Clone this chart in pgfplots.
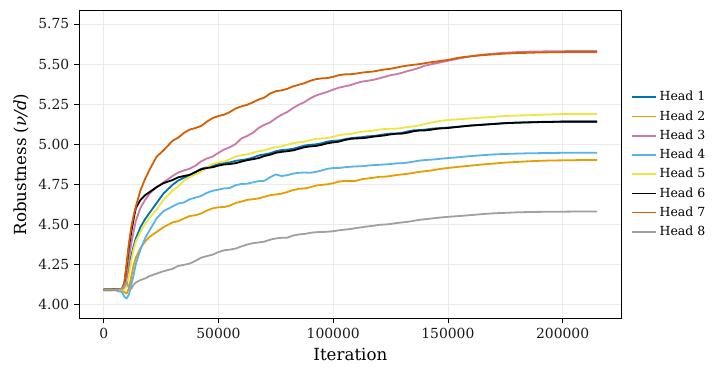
\documentclass[border=0pt]{standalone}
\usepackage{fontspec}
\setmainfont{DejaVu Serif}
\usepackage{pgfplots}
\usepackage{pgfplotstable}
\pgfplotsset{compat=1.18}
\definecolor{hA}{HTML}{0072B2}
\definecolor{hB}{HTML}{E69F00}
\definecolor{hC}{HTML}{CC79A7}
\definecolor{hD}{HTML}{56B4E9}
\definecolor{hE}{HTML}{F0E442}
\definecolor{hF}{HTML}{000000}
\definecolor{hG}{HTML}{D55E00}
\definecolor{hH}{HTML}{A0A0A0}
\pgfplotstableread{
x      h1    h2    h3    h4    h5    h6    h7    h8
0      4.090 4.090 4.090 4.085 4.090 4.090 4.090 4.090
5000   4.091 4.091 4.090 4.086 4.091 4.092 4.092 4.090
8000   4.092 4.090 4.092 4.075 4.090 4.095 4.095 4.092
9000   4.100 4.075 4.100 4.045 4.090 4.130 4.130 4.110
10000  4.150 4.065 4.170 4.035 4.110 4.240 4.250 4.140
11000  4.220 4.100 4.280 4.060 4.180 4.360 4.380 4.100
12000  4.300 4.170 4.380 4.120 4.270 4.450 4.480 4.095
13000  4.360 4.240 4.450 4.180 4.340 4.530 4.550 4.120
14000  4.410 4.290 4.520 4.250 4.390 4.600 4.610 4.135
16000  4.480 4.350 4.600 4.340 4.450 4.650 4.710 4.150
18000  4.530 4.390 4.650 4.410 4.500 4.680 4.780 4.160
20000  4.570 4.420 4.690 4.460 4.540 4.700 4.840 4.175
23000  4.630 4.450 4.730 4.535 4.590 4.730 4.920 4.190
26000  4.690 4.480 4.760 4.580 4.650 4.755 4.960 4.205
30000  4.745 4.510 4.800 4.610 4.710 4.775 5.020 4.220
32500  4.772 4.518 4.822 4.628 4.735 4.792 5.040 4.238
35000  4.790 4.535 4.835 4.635 4.770 4.800 5.070 4.245
37500  4.803 4.550 4.846 4.655 4.795 4.808 5.090 4.253
40000  4.825 4.555 4.865 4.665 4.810 4.825 5.100 4.270
42500  4.845 4.566 4.892 4.676 4.828 4.842 5.113 4.290
45000  4.855 4.585 4.910 4.695 4.855 4.850 5.140 4.300
47500  4.862 4.598 4.922 4.708 4.875 4.855 5.162 4.309
50000  4.875 4.605 4.945 4.715 4.885 4.865 5.175 4.325
52500  4.882 4.606 4.966 4.723 4.890 4.872 5.183 4.336
55000  4.885 4.615 4.980 4.725 4.905 4.875 5.200 4.340
57500  4.895 4.632 5.000 4.743 4.922 4.880 5.222 4.347
60000  4.900 4.640 5.035 4.750 4.930 4.890 5.235 4.360
62500  4.905 4.651 5.050 4.752 4.935 4.899 5.245 4.372
65000  4.915 4.655 5.070 4.760 4.945 4.905 5.260 4.380
67500  4.928 4.660 5.100 4.768 4.955 4.912 5.278 4.385
70000  4.935 4.670 5.120 4.770 4.960 4.925 5.290 4.390
72500  4.942 4.680 5.135 4.792 4.972 4.933 5.315 4.402
75000  4.955 4.685 5.160 4.810 4.980 4.945 5.330 4.410
77500  4.962 4.690 5.183 4.800 4.985 4.951 5.335 4.414
80000  4.965 4.700 5.200 4.805 4.995 4.955 5.345 4.415
82500  4.970 4.712 5.225 4.815 5.005 4.960 5.360 4.428
85000  4.980 4.720 5.245 4.820 5.010 4.970 5.370 4.435
87500  4.990 4.722 5.262 4.822 5.015 4.980 5.380 4.438
90000  4.995 4.730 5.285 4.820 5.025 4.985 5.395 4.445
92500  4.998 4.740 5.303 4.826 5.032 4.988 5.405 4.449
95000  5.005 4.745 5.315 4.835 5.035 4.995 5.410 4.450
97500  5.015 4.748 5.326 4.845 5.038 5.005 5.412 4.452
100000 5.020 4.755 5.340 4.850 5.045 5.010 5.420 4.455
102500 5.022 4.765 5.352 4.850 5.055 5.015 5.430 4.461
105000 5.030 4.770 5.360 4.855 5.060 5.025 5.435 4.465
107500 5.036 4.768 5.368 4.858 5.063 5.032 5.436 4.469
110000 5.040 4.770 5.380 4.860 5.070 5.035 5.440 4.475
112500 5.043 4.780 5.390 4.861 5.077 5.036 5.446 4.480
115000 5.048 4.785 5.395 4.865 5.080 5.040 5.450 4.485
117500 5.050 4.789 5.401 4.868 5.084 5.046 5.453 4.489
120000 5.055 4.795 5.410 4.870 5.090 5.050 5.460 4.495
122500 5.061 4.796 5.420 4.872 5.094 5.054 5.466 4.497
125000 5.065 4.800 5.430 4.875 5.095 5.060 5.470 4.500
127500 5.066 4.806 5.436 4.879 5.096 5.064 5.477 4.506
130000 5.070 4.810 5.445 4.880 5.100 5.065 5.485 4.510
132500 5.079 4.814 5.456 4.884 5.106 5.071 5.490 4.514
135000 5.085 4.820 5.465 4.890 5.110 5.080 5.495 4.520
137500 5.087 4.826 5.476 4.896 5.116 5.084 5.499 4.526
140000 5.090 4.830 5.490 4.900 5.125 5.085 5.505 4.530
142500 5.095 4.834 5.497 4.902 5.134 5.089 5.511 4.534
145000 5.098 4.840 5.505 4.905 5.140 5.095 5.515 4.538
147500 5.100 4.846 5.512 4.909 5.146 5.098 5.521 4.542
150000 5.103 4.850 5.520 4.912 5.150 5.100 5.525 4.545
155000 5.109 4.858 5.535 4.918 5.155 5.108 5.540 4.550
160000 5.116 4.865 5.548 4.925 5.160 5.115 5.548 4.556
165000 5.121 4.872 5.558 4.930 5.165 5.120 5.555 4.562
170000 5.126 4.878 5.565 4.935 5.170 5.125 5.560 4.567
175000 5.131 4.884 5.570 4.938 5.175 5.130 5.565 4.570
180000 5.134 4.888 5.574 4.940 5.178 5.133 5.568 4.573
185000 5.136 4.892 5.577 4.942 5.180 5.135 5.570 4.575
190000 5.138 4.895 5.578 4.943 5.183 5.137 5.572 4.576
195000 5.139 4.897 5.580 4.944 5.185 5.138 5.573 4.577
200000 5.140 4.898 5.580 4.945 5.187 5.140 5.574 4.577
205000 5.140 4.899 5.581 4.945 5.188 5.140 5.575 4.578
210000 5.140 4.900 5.581 4.945 5.188 5.140 5.575 4.578
215000 5.140 4.900 5.581 4.945 5.188 5.140 5.575 4.578
}\data
\begin{document}
\begin{tikzpicture}
\begin{axis}[
  name=ax,
  scale only axis,
  width=390.7pt, height=221.5pt,
  xmin=-10750, xmax=225750,
  ymin=3.9106, ymax=5.833,
  xtick={0,50000,100000,150000,200000},
  ytick={4.00,4.25,4.50,4.75,5.00,5.25,5.50,5.75},
  scaled x ticks=false,
  xticklabel style={/pgf/number format/fixed,/pgf/number format/1000 sep={}},
  yticklabel style={/pgf/number format/fixed,/pgf/number format/fixed zerofill,/pgf/number format/precision=2},
  /pgf/number format/assume math mode=true,
  tick label style={font=\fontsize{10}{12}\selectfont, text=black!90},
  label style={font=\fontsize{12}{14}\selectfont},
  xlabel={Iteration},
  ylabel={Robustness ({\itshape ν/d})},
  tick align=outside, tick pos=left,
  major tick length=3.5pt,
  grid=major,
  grid style={line width=0.4pt, draw=black!8},
  axis line style={line width=0.6pt},
  every tick/.style={line width=0.6pt, black},
  legend style={draw=none, fill=none, at={(1.01,0.5)}, anchor=west,
    font=\fontsize{9}{11}\selectfont, row sep=1.5pt},
  legend cell align=left,
  legend image code/.code={\draw[#1, line width=1.2pt] (0pt,0pt) -- (17pt,0pt);},
  every axis plot/.append style={line width=1.3pt, line join=round},
]
\addplot[hA, no marks] table[x=x,y=h1] {\data}; \addlegendentry{Head 1}
\addplot[hB, no marks] table[x=x,y=h2] {\data}; \addlegendentry{Head 2}
\addplot[hC, no marks] table[x=x,y=h3] {\data}; \addlegendentry{Head 3}
\addplot[hD, no marks] table[x=x,y=h4] {\data}; \addlegendentry{Head 4}
\addplot[hE, no marks] table[x=x,y=h5] {\data}; \addlegendentry{Head 5}
\addplot[hF, no marks] table[x=x,y=h6] {\data}; \addlegendentry{Head 6}
\addplot[hG, no marks] table[x=x,y=h7] {\data}; \addlegendentry{Head 7}
\addplot[hH, no marks] table[x=x,y=h8] {\data}; \addlegendentry{Head 8}
\end{axis}
\pgfresetboundingbox
\path ([shift={(-56.9pt,-40.1pt)}]ax.south west) rectangle ([shift={(76.5pt,7.7pt)}]ax.north east);
\end{tikzpicture}
\end{document}
